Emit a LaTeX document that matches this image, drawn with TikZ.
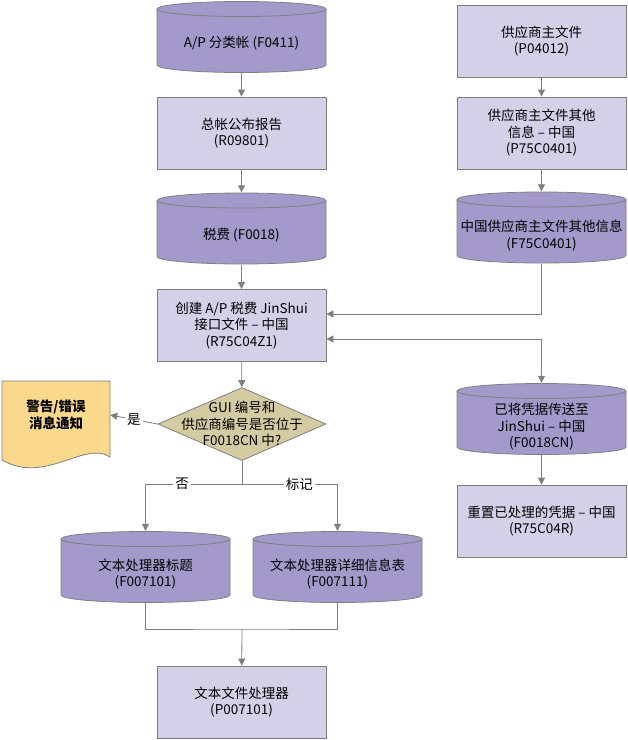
\documentclass[tikz,border=0pt]{standalone}
\usepackage{fontspec}
\setmainfont{Noto Sans CJK SC}
\usepackage{xcolor}
\usepackage{tikz}
\usetikzlibrary{shapes.geometric}
\usetikzlibrary{arrows.meta}
\usetikzlibrary{positioning}
\tikzset{>={Triangle[width=7pt,length=7pt]}}
\definecolor{boxfill}{HTML}{D3D0E8}
\definecolor{drumfill}{HTML}{A399CA}
\definecolor{askfill}{HTML}{D5CBA2}
\definecolor{notefill}{HTML}{FAD98C}
\definecolor{edge}{HTML}{7F7F7F}

\begin{document}
\begin{tikzpicture}[x=1pt,y=-1pt,
        every node/.style={font=\fontsize{13.5}{16.5}\selectfont, align=center},
        prog/.style={rectangle, draw=edge, fill=boxfill, line width=0.8pt, minimum width=169pt, minimum height=72pt},
        drum/.style={rectangle, minimum width=170pt, minimum height=72pt, inner sep=0pt,
            path picture={
                \filldraw[fill=drumfill, draw=edge, line width=0.8pt]
                    ([shift={(0.5pt,-8pt)}]path picture bounding box.north west)
                    arc[start angle=180, end angle=0, x radius=84.5pt, y radius=7.5pt]
                    -- ([shift={(-0.5pt,8pt)}]path picture bounding box.south east)
                    arc[start angle=0, end angle=-180, x radius=84.5pt, y radius=7.5pt] -- cycle;
                \draw[edge, line width=0.8pt] ([shift={(0.5pt,-8pt)}]path picture bounding box.north west)
                    arc[start angle=180, end angle=360, x radius=84.5pt, y radius=7.5pt];
            }},
        ask/.style={diamond, draw=edge, fill=askfill, line width=0.8pt, minimum width=168pt, minimum height=73pt, inner sep=0pt},
        flow/.style={->, draw=edge, line width=0.8pt},
        wire/.style={draw=edge, line width=0.8pt},
        tag/.style={fill=white, inner sep=2pt}]
    \useasboundingbox (0,0) rectangle (628,740);
    % left column
    \node[drum] (ledger) at (241.5,37) {};
    \node (ledgertext) at ([yshift=-6.5pt]ledger.center) {A/P 分类帐 (F0411)};
    \node[prog] (glpost) at (241.5,133) {总帐公布报告\\(R09801)};
    \node[drum] (tax) at (241.5,228.5) {};
    \node (taxtext) at ([yshift=-7pt]tax.center) {税费 (F0018)};
    \node[prog] (create) at (241.5,325.5) {创建 A/P 税费 JinShui\\接口文件 – 中国\\(R75C04Z1)};
    \node[ask] (ask) at (242,424) {};
    \node (asktext) at (ask.center) {GUI 编号和\\供应商编号是否位于\\F0018CN 中?};
    % warning note
    \filldraw[fill=notefill, draw=edge, line width=0.8pt] (2,381) -- (110,381) -- (110,457)
        .. controls (85,440) and (45,485) .. (2,460) -- cycle;
    \node[font=\fontsize{13.5}{16.5}\selectfont\bfseries, minimum width=108pt, minimum height=68pt] (warn) at (56,415) {警告/错误\\消息通知};
    % word processor tables
    \node[drum] (wphdr) at (145.5,567) {};
    \node (wphdrtext) at ([yshift=-7pt]wphdr.center) {文本处理器标题\\(F007101)};
    \node[drum] (wpdet) at (337.5,567) {};
    \node (wpdettext) at ([yshift=-7pt]wpdet.center) {文本处理器详细信息表\\(F007111)};
    \node[prog] (wpprog) at (241.5,702) {文本文件处理器\\(P007101)};
    % right column
    \node[prog] (vendor) at (541.5,41) {供应商主文件\\(P04012)};
    \node[prog] (vinfo) at (541.5,133) {供应商主文件其他\\信息 – 中国\\(P75C0401)};
    \node[drum] (vcyl) at (541.5,227.5) {};
    \node (vcyltext) at ([yshift=-8pt]vcyl.center) {中国供应商主文件其他信息\\(F75C0401)};
    \node[drum] (sent) at (541.5,419) {};
    \node (senttext) at ([yshift=-8pt]sent.center) {已将凭据传送至\\JinShui – 中国\\(F0018CN)};
    \node[prog] (reset) at (541.5,521) {重置已处理的凭据 – 中国\\(R75C04R)};

    \coordinate (fork) at (242,484);
    \coordinate (join) at (242,629);

    \draw[flow] (ledger) -- (glpost);
    \draw[flow] (glpost) -- (tax);
    \draw[flow] (tax) -- (create);
    \draw[flow] (create) -- (ask);
    \draw[flow] (ask.west) -- node[tag] (yes) {是} (warn.east);
    \draw[wire] (ask.south) -- (fork);
    \draw[flow] (fork) -| node[tag, pos=0.31] (no) {否} (wphdr.north);
    \draw[flow] (fork) -| node[tag, pos=0.3] (flag) {标记} (wpdet.north);
    \draw[wire] (wphdr.south) |- (join) -| (wpdet.south);
    \draw[flow] (join) -- (wpprog);
    \draw[flow] (vendor) -- (vinfo);
    \draw[flow] (vinfo) -- (vcyl);
    \draw[flow] (vcyl.south) |- ([yshift=11.5pt]create.east);
    \draw[flow, <->] ([yshift=-13.5pt]create.east) -| (sent.north);
    \draw[flow] (sent) -- (reset);
\end{tikzpicture}
\end{document}
